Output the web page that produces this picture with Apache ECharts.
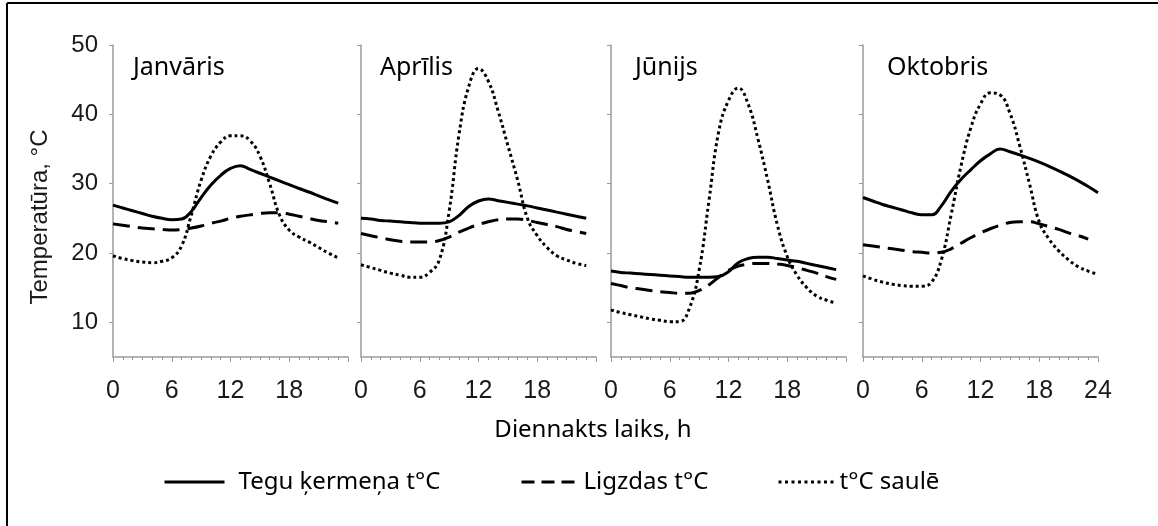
<!DOCTYPE html>
<html><head><meta charset="utf-8">
<script src="https://cdn.jsdelivr.net/npm/echarts@6/dist/echarts.min.js"></script>
<style>html,body{margin:0;padding:0;background:#fff}#c{width:1158px;height:526px}</style>
</head><body><div id="c"></div>
<script>
// ---- data ----
const hours = [0,1,2,3,4,5,6,7,8,9,10,11,12,13,14,15,16,17,18,19,20,21,22,23,24];
const months = ['Janvāris','Aprīlis','Jūnijs','Oktobris'];
const seriesNames = ['Tegu ķermeņa t°C','Ligzdas t°C','t°C saulē'];
const yTicks = [10,20,30,40,50];
const xAxisTitle = 'Diennakts laiks, h';
const yAxisTitle = 'Temperatūra, °C';

const bodyJan = [26.9,26.5,26.1,25.7,25.3,25.0,24.8,24.9,26.0,28.0,29.8,31.2,32.2,32.6,32.05,31.5,30.95,30.4,29.85,29.3,28.8,28.25,27.7,27.2];
const nestJan = [24.2,24.0,23.8,23.6,23.5,23.4,23.3,23.4,23.6,23.9,24.3,24.6,25.0,25.3,25.5,25.7,25.8,25.8,25.6,25.3,25.0,24.7,24.5,24.3];
const sunJan  = [19.6,19.2,18.9,18.7,18.6,18.8,19.3,21.0,25.5,30.5,34.0,36.0,36.9,36.9,36.2,34.0,30.0,25.5,23.3,22.3,21.6,20.8,20.0,19.3];

const bodyApr = [25.0,24.9,24.7,24.6,24.5,24.4,24.3,24.3,24.3,24.5,25.4,26.7,27.5,27.8,27.55,27.3,27.05,26.8,26.5,26.2,25.9,25.6,25.3,25.0];
const nestApr = [22.8,22.5,22.2,21.9,21.7,21.6,21.6,21.6,21.8,22.3,23.0,23.6,24.1,24.5,24.8,24.9,24.9,24.7,24.4,24.1,23.8,23.4,23.1,22.8];
const sunApr  = [18.3,17.9,17.5,17.1,16.8,16.5,16.5,17.2,19.0,26.0,37.0,44.0,46.6,44.8,40.5,35.5,30.5,25.0,22.5,20.8,19.6,19.0,18.5,18.2];

const bodyJun = [17.4,17.2,17.1,17.0,16.9,16.8,16.7,16.6,16.5,16.5,16.5,16.6,17.3,18.6,19.2,19.4,19.4,19.2,19.0,18.8,18.5,18.2,17.9,17.6];
const nestJun = [15.6,15.3,15.0,14.8,14.6,14.4,14.3,14.2,14.2,14.6,15.4,16.5,17.5,18.1,18.4,18.5,18.5,18.4,18.2,17.9,17.5,17.1,16.6,16.2];
const sunJun  = [11.8,11.4,11.1,10.8,10.5,10.3,10.1,10.1,12.0,17.5,27.5,37.5,42.0,43.8,41.5,36.5,30.5,24.0,19.5,16.8,15.0,13.8,13.2,12.8];

const bodyOct = [28.0,27.5,27.0,26.6,26.2,25.8,25.5,25.5,26.8,28.9,30.6,32.0,33.3,34.3,35.0,34.6,34.15,33.65,33.1,32.5,31.85,31.15,30.4,29.6,28.7];
const nestOct = [21.2,21.0,20.8,20.6,20.4,20.2,20.1,20.0,20.1,20.6,21.4,22.2,22.9,23.5,24.0,24.4,24.5,24.5,24.2,23.8,23.4,22.9,22.5,22.0];
const sunOct  = [16.7,16.2,15.8,15.5,15.3,15.2,15.2,15.8,19.0,25.5,32.5,38.0,41.5,43.1,42.8,40.2,35.5,30.0,24.5,22.0,20.3,19.0,18.0,17.4,16.9];

const panels = [
  [bodyJan, nestJan, sunJan],
  [bodyApr, nestApr, sunApr],
  [bodyJun, nestJun, sunJun],
  [bodyOct, nestOct, sunOct]
];

// ---- layout / style ----
const gridLefts = [113, 361, 611, 863];
const yOffsets = [3, 3, 5, 3];
const titleLefts = [128, 375, 630, 882];
const lineTypes = ['solid', [17, 8], [3, 3]];
const axisGrey = '#9a9a9a';
const calibri = 'Noto Sans';
const arial = 'Liberation Sans';

const grid = [], xAxis = [], yAxis = [], series = [], title = [];
for (let i = 0; i < 4; i++) {
  grid.push({left: gridLefts[i], width: 235, top: 45, bottom: 169});
  xAxis.push({
    type: 'value', gridIndex: i, min: 0, max: 24, interval: 6,
    axisLine: {show: true, lineStyle: {color: axisGrey, width: 1.5}},
    axisTick: {show: true, length: 5, lineStyle: {color: axisGrey}},
    minorTick: {show: true, splitNumber: 6, length: 3, lineStyle: {color: axisGrey}},
    splitLine: {show: false},
    axisLabel: {fontFamily: arial, fontSize: 25, color: '#1a1a1a', margin: 22,
                showMaxLabel: i === 3, showMinLabel: true}
  });
  yAxis.push({
    type: 'value', gridIndex: i, min: 5, max: 50, offset: yOffsets[i],
    axisLine: {show: true, lineStyle: {color: axisGrey, width: 1.5}},
    axisTick: {show: true, length: 4, customValues: yTicks, lineStyle: {color: axisGrey}},
    splitLine: {show: false},
    axisLabel: {show: i === 0, customValues: yTicks, fontFamily: arial, fontSize: 24, color: '#1a1a1a', margin: 12}
  });
  title.push({text: months[i], left: titleLefts[i], top: 50,
    textStyle: {fontFamily: calibri, fontSize: 25, fontWeight: 'normal', color: '#000'}});
  panels[i].forEach((vals, k) => {
    series.push({
      type: 'line', name: seriesNames[k], xAxisIndex: i, yAxisIndex: i,
      data: vals.map((v, j) => [hours[j], v]),
      smooth: 0.45, symbol: 'none', silent: true,
      lineStyle: {color: '#000', width: 3, type: lineTypes[k], cap: 'butt'},
      itemStyle: {color: '#000'}
    });
  });
}

const legendText = {fontFamily: calibri, fontSize: 24, color: '#000'};
const hiddenSymbol = {opacity: 0};
const legend = [
  {data: [seriesNames[0]], left: 163, top: 470, padding: 0, itemWidth: 60, itemHeight: 14, itemStyle: hiddenSymbol,
   lineStyle: {width: 3}, textStyle: Object.assign({padding: [0, 0, 0, 9]}, legendText)},
  {data: [seriesNames[1]], left: 520, top: 470, padding: 0, itemWidth: 53, itemHeight: 14, itemStyle: hiddenSymbol,
   lineStyle: {type: [13, 7], width: 3}, textStyle: Object.assign({padding: [0, 0, 0, 4]}, legendText)},
  {data: [seriesNames[2]], left: 777, top: 470, padding: 0, itemWidth: 56, itemHeight: 14, itemStyle: hiddenSymbol,
   lineStyle: {type: [3, 3.5], width: 3}, textStyle: legendText}
];

const chart = echarts.init(document.getElementById('c'), null, {renderer: 'canvas'});
chart.setOption({
  animation: false,
  backgroundColor: '#fff',
  title, grid, xAxis, yAxis, series, legend,
  graphic: [
    {type: 'line', shape: {x1: 7, y1: 3, x2: 1158, y2: 3}, style: {stroke: '#000', lineWidth: 2}},
    {type: 'line', shape: {x1: 7, y1: 3, x2: 7, y2: 526}, style: {stroke: '#000', lineWidth: 2}},
    {type: 'text', x: 40, y: 217, rotation: Math.PI / 2,
     style: {text: yAxisTitle, fontFamily: arial, fontSize: 24, fill: '#1a1a1a', align: 'center', verticalAlign: 'middle'}},
    {type: 'text', x: 593, y: 430,
     style: {text: xAxisTitle, fontFamily: calibri, fontSize: 24, fill: '#000', align: 'center', verticalAlign: 'middle'}}
  ]
});
</script></body></html>
